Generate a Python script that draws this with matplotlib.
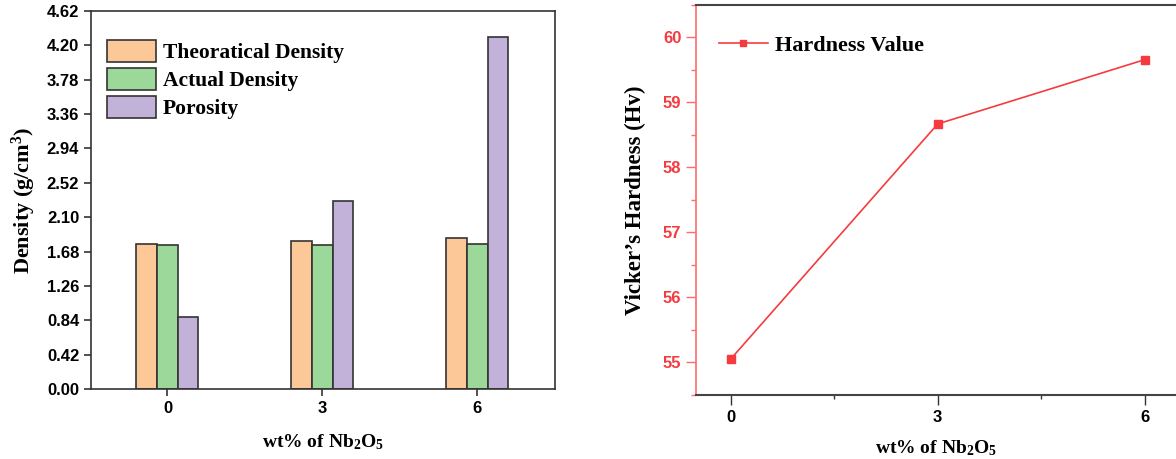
import matplotlib
matplotlib.use("Agg")
import matplotlib.pyplot as plt
import numpy as np
from matplotlib.ticker import MultipleLocator, FixedLocator

# ---- data ----
categories = [0, 3, 6]
theoretical_density = [1.777, 1.805, 1.848]
actual_density = [1.756, 1.765, 1.771]
porosity = [0.886, 2.295, 4.30]
density_ticks = [0.00, 0.42, 0.84, 1.26, 1.68, 2.10, 2.52, 2.94, 3.36, 3.78, 4.20, 4.62]

hardness_x = [0, 3, 6]
hardness = [55.05, 58.67, 59.66]
hardness_ticks = [55, 56, 57, 58, 59, 60]

series_names = ["Theoratical Density", "Actual Density", "Porosity"]
colors = ["#FDC897", "#9DD89B", "#C2B1D8"]
edge = "#333333"
red = "#F53B3E"

serif = ["Liberation Serif", "DejaVu Serif"]
sans = ["Liberation Sans", "DejaVu Sans"]

plt.rcParams["mathtext.fontset"] = "custom"
plt.rcParams["mathtext.rm"] = "Liberation Serif:bold"
plt.rcParams["mathtext.bf"] = "Liberation Serif:bold"
plt.rcParams["mathtext.it"] = "Liberation Serif:bold:italic"

fig = plt.figure(figsize=(11.76, 4.59), dpi=100)

# ---------- left: bar chart ----------
ax1 = fig.add_axes([91 / 1176, (459 - 389) / 459, (555 - 91) / 1176, (389 - 11) / 459])
w = 0.4
x = np.array(categories, dtype=float)
for i, (vals, name, c) in enumerate(zip([theoretical_density, actual_density, porosity], series_names, colors)):
    ax1.bar(x + (i - 1) * w, vals, width=w, color=c, edgecolor=edge, linewidth=1.2, label=name)
ax1.set_xlim(-1.48, 7.5)
ax1.set_ylim(0, 4.62)
ax1.yaxis.set_major_locator(FixedLocator(density_ticks))
ax1.set_yticklabels([f"{t:.2f}" for t in density_ticks])
ax1.set_xticks(categories)
ax1.set_xticklabels([str(c) for c in categories])
for lab in ax1.get_xticklabels() + ax1.get_yticklabels():
    lab.set_fontfamily(sans)
    lab.set_fontweight("bold")
    lab.set_fontsize(12)
ax1.tick_params(axis="both", direction="out", length=5, width=1.2, color="#333333")
for s in ax1.spines.values():
    s.set_color("#333333")
    s.set_linewidth(1.2)
ax1.set_ylabel("Density (g/cm$^{\\mathrm{3}}$)", fontfamily=serif, fontweight="bold", fontsize=16, labelpad=6)
ax1.set_xlabel("wt% of Nb$_{\\mathrm{2}}$O$_{\\mathrm{5}}$", fontfamily=serif, fontweight="bold", fontsize=14, labelpad=12)
leg1 = ax1.legend(loc="upper left", bbox_to_anchor=(0.034, 0.924), frameon=False,
                  prop={"family": serif, "weight": "bold", "size": 15.5},
                  handlelength=2.3, handleheight=1.25, labelspacing=0.2, handletextpad=0.3,
                  borderpad=0, borderaxespad=0)
for p in leg1.get_patches():
    p.set_edgecolor(edge)

# ---------- right: line chart ----------
ax2 = fig.add_axes([696 / 1176, (459 - 395) / 459, (1176 - 696) / 1176, (395 - 5) / 459])
ax2.plot(hardness_x, hardness, color=red, linewidth=1.2, marker="s", markersize=5.5,
         markerfacecolor=red, markeredgecolor=red, label="Hardness Value")
ax2.set_xlim(-0.5, 6.45)
ax2.set_ylim(54.5, 60.5)
ax2.set_xticks(hardness_x)
ax2.set_xticklabels([str(v) for v in hardness_x])
ax2.set_yticks(hardness_ticks)
ax2.set_yticklabels([str(v) for v in hardness_ticks])
ax2.xaxis.set_minor_locator(MultipleLocator(1.5))
ax2.yaxis.set_minor_locator(MultipleLocator(0.5))
for lab in ax2.get_xticklabels() + ax2.get_yticklabels():
    lab.set_fontfamily(sans)
    lab.set_fontweight("bold")
    lab.set_fontsize(12)
for lab in ax2.get_yticklabels():
    lab.set_color(red)
ax2.tick_params(axis="y", which="major", direction="out", length=7, width=1.0, color="#FF6B6B")
ax2.tick_params(axis="y", which="minor", direction="out", length=3.5, width=1.0, color="#FF6B6B")
ax2.tick_params(axis="x", which="major", direction="out", length=7, width=1.0, color="#333333")
ax2.tick_params(axis="x", which="minor", direction="out", length=3, width=1.0, color="#333333")
ax2.spines["left"].set_color("#FF6B6B")
ax2.spines["left"].set_linewidth(1.2)
ax2.spines["bottom"].set_color("#444444")
ax2.spines["bottom"].set_linewidth(1.5)
ax2.spines["top"].set_color("#444444")
ax2.spines["top"].set_linewidth(1.5)
ax2.spines["right"].set_visible(False)
ax2.set_ylabel("Vicker\u2019s Hardness (Hv)", fontfamily=serif, fontweight="bold", fontsize=16.5, labelpad=12)
ax2.set_xlabel("wt% of Nb$_{\\mathrm{2}}$O$_{\\mathrm{5}}$", fontfamily=serif, fontweight="bold", fontsize=14, labelpad=10)
ax2.legend(loc="upper left", bbox_to_anchor=(0.048, 0.922), frameon=False,
           prop={"family": serif, "weight": "bold", "size": 16},
           handlelength=2.2, handletextpad=0.3, markerscale=0.9,
           borderpad=0, borderaxespad=0)

fig.savefig("out.png", dpi=100)
